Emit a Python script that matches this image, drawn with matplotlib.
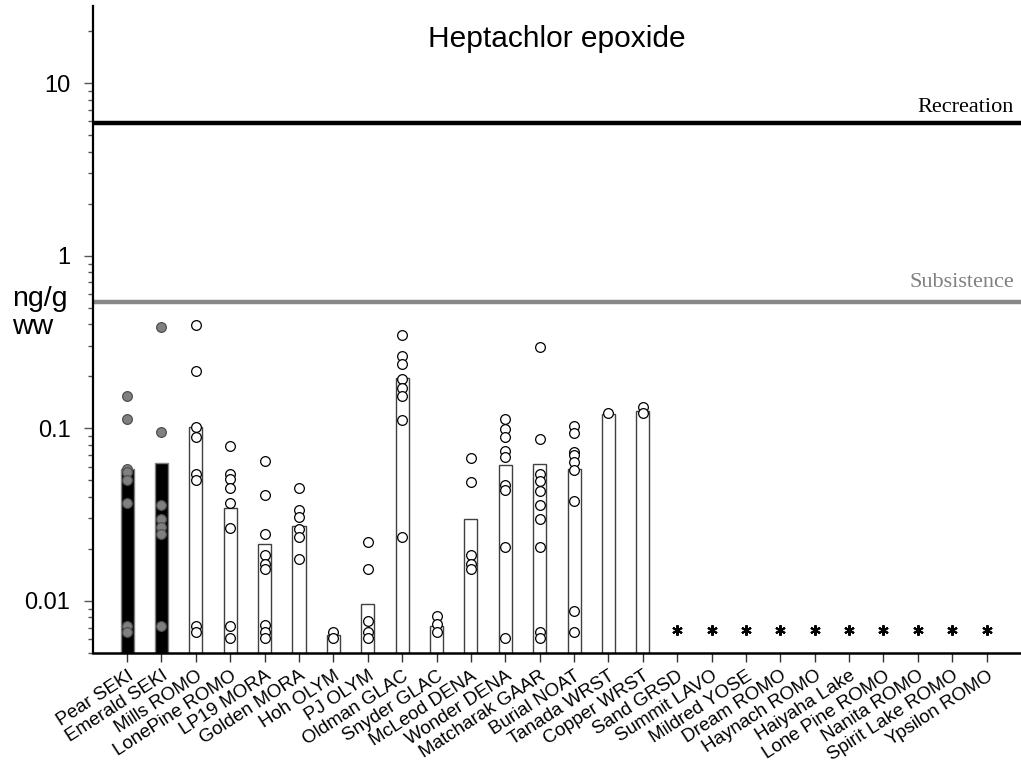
import numpy as np
import matplotlib
matplotlib.use('Agg')
from matplotlib import pyplot as plt
from matplotlib.ticker import FixedLocator, FixedFormatter, LogLocator, NullFormatter

plt.rcParams['font.family'] = ['Liberation Sans', 'DejaVu Sans']

# lake names, left to right
lakes = ['Pear SEKI', 'Emerald SEKI', 'Mills ROMO', 'LonePine ROMO', 'LP19 MORA',
         'Golden MORA', 'Hoh OLYM', 'PJ OLYM', 'Oldman GLAC', 'Snyder GLAC',
         'McLeod DENA', 'Wonder DENA', 'Matcharak GAAR', 'Burial NOAT',
         'Tanada WRST', 'Copper WRST', 'Sand GRSD', 'Summit LAVO', 'Mildred YOSE',
         'Dream ROMO', 'Haynach ROMO', 'Haiyaha Lake', 'Lone Pine ROMO',
         'Nanita ROMO', 'Spirit Lake ROMO', 'Ypsilon ROMO']

# bar height (mean) per lake, None = not detected
means = [0.0577, 0.0628, 0.102, 0.0345, 0.0214, 0.027, 0.0063, 0.0096, 0.196,
         0.0071, 0.0299, 0.0614, 0.0622, 0.0577, 0.121, 0.1256,
         None, None, None, None, None, None, None, None, None, None]

# individual fish, ng/g ww
fish = [
    [0.153, 0.113, 0.058, 0.056, 0.050, 0.037, 0.0071, 0.0066],
    [0.388, 0.0957, 0.0357, 0.0296, 0.0267, 0.0245, 0.0071],
    [0.397, 0.214, 0.1015, 0.0887, 0.054, 0.0498, 0.0071, 0.0066],
    [0.0788, 0.0545, 0.0509, 0.045, 0.037, 0.0264, 0.0071, 0.0061],
    [0.065, 0.0408, 0.0245, 0.0183, 0.0163, 0.0153, 0.0072, 0.0066, 0.0061],
    [0.045, 0.0338, 0.0305, 0.0261, 0.0234, 0.0174],
    [0.0066, 0.0061],
    [0.0219, 0.0153, 0.0076, 0.0066, 0.0061],
    [0.347, 0.264, 0.236, 0.193, 0.171, 0.153, 0.112, 0.0234],
    [0.0082, 0.0073, 0.0066],
    [0.0674, 0.049, 0.0183, 0.0163, 0.0153],
    [0.113, 0.0992, 0.0888, 0.0743, 0.0677, 0.047, 0.0436, 0.0205, 0.0061],
    [0.295, 0.0869, 0.0545, 0.0492, 0.043, 0.0357, 0.0296, 0.0205, 0.0066, 0.0061],
    [0.103, 0.094, 0.0727, 0.0704, 0.0636, 0.0569, 0.0378, 0.0087, 0.0066],
    [0.122],
    [0.1325, 0.122],
    [], [], [], [], [], [], [], [], [], []]

# lakes drawn with black bars / grey fish
dark_lakes = ['Pear SEKI', 'Emerald SEKI']

nd_level = 0.0068      # where the "not detected" star sits
recreation = 5.84
subsistence = 0.54

fig = plt.figure(figsize=(10.21, 7.74), dpi=100)
ax = fig.add_axes([0.0908, 0.1567, 0.9092, 0.8355])

x = np.arange(len(lakes))
for i, name in enumerate(lakes):
    dark = name in dark_lakes
    if means[i] is not None:
        ax.bar(x[i], means[i] - 0.001, bottom=0.001, width=0.38,
               color='black' if dark else 'white',
               edgecolor='#7f7f7f' if dark else '#404040', linewidth=1, zorder=2)
    if fish[i]:
        ax.plot([x[i]] * len(fish[i]), fish[i], 'o', ms=7, mew=0.9,
                mfc='#808080' if dark else 'white',
                mec='#505050' if dark else 'black', zorder=3)
    else:
        ax.plot(x[i], nd_level, marker=(6, 2, 0), ms=7.5, mew=1.5, color='black', zorder=3)

ax.axhline(recreation, color='black', lw=3.2, zorder=1)
ax.axhline(subsistence, color='#888888', lw=3.2, zorder=1)
ax.text(25.8, recreation * 1.16, 'Recreation', ha='right', va='baseline',
        family=['Liberation Serif', 'DejaVu Serif'], fontsize=16)
ax.text(25.8, subsistence * 1.22, 'Subsistence', ha='right', va='baseline',
        family=['Liberation Serif', 'DejaVu Serif'], fontsize=16, color='#808080')

ax.set_yscale('log')
ax.set_ylim(0.005, 28)
ax.set_xlim(-1, 26)

ax.yaxis.set_major_locator(FixedLocator([0.01, 0.1, 1, 10]))
ax.yaxis.set_major_formatter(FixedFormatter(['0.01', '0.1', '1', '10']))
ax.yaxis.set_minor_locator(LogLocator(base=10, subs=np.arange(2, 10)))
ax.yaxis.set_minor_formatter(NullFormatter())
ax.tick_params(axis='y', which='major', length=6.5, width=1, color='#555555',
               labelsize=17, pad=9.5)
ax.tick_params(axis='y', which='minor', length=3.5, width=1, color='#555555')

ax.set_xticks(x)
ax.set_xticklabels(lakes, rotation=33, ha='right', rotation_mode='anchor', fontsize=13.5)
ax.tick_params(axis='x', length=6.5, width=1, color='#333333', pad=4)

for side in ['top', 'right']:
    ax.spines[side].set_visible(False)
ax.spines['left'].set_linewidth(1.6)
ax.spines['bottom'].set_linewidth(1.8)

ax.text(0.5, 0.937, 'Heptachlor epoxide', transform=ax.transAxes, ha='center',
        va='baseline', fontsize=21.5)
fig.text(0.012, 1 - 306 / 774, 'ng/g', ha='left', va='baseline', fontsize=20.5)
fig.text(0.012, 1 - 334 / 774, 'ww', ha='left', va='baseline', fontsize=20.5)

fig.savefig('out.png', dpi=100)
